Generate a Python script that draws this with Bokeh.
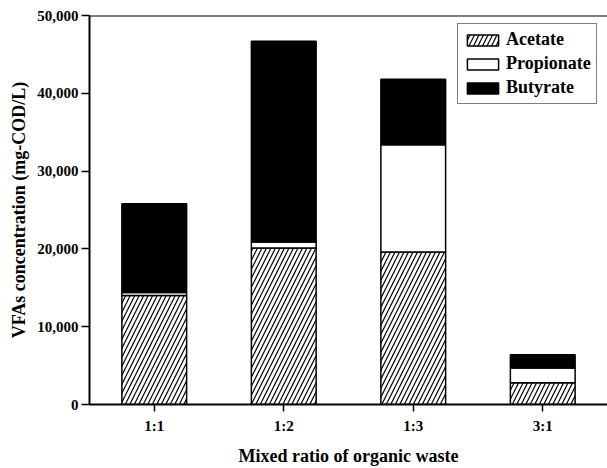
from bokeh.plotting import figure
from bokeh.models import FactorRange, Range1d, FixedTicker, NumeralTickFormatter, Span, Legend, LegendItem
from bokeh.embed import file_html
from bokeh.resources import INLINE

ratios = ["1:1", "1:2", "1:3", "3:1"]
acetate = [14000, 20100, 19600, 2800]
propionate = [400, 800, 13800, 1900]
butyrate = [11400, 25800, 8400, 1700]
y_ticks = [0, 10000, 20000, 30000, 40000, 50000]

FONT = "Liberation Serif"

p = figure(width=607, height=468, x_range=FactorRange(*ratios, start=0, end=3.97),
           y_range=Range1d(0, 50000), output_backend="svg", toolbar_location=None,
           min_border_left=89, min_border_right=0, min_border_top=15, min_border_bottom=64)
p.outline_line_color = None
p.xgrid.grid_line_color = None
p.ygrid.grid_line_color = None
p.background_fill_color = "white"
p.border_fill_color = "white"

src = dict(x=ratios, Acetate=acetate, Propionate=propionate, Butyrate=butyrate)
rs = p.vbar_stack(["Acetate", "Propionate", "Butyrate"], x="x", width=0.5, source=src,
                  fill_color=["white", "white", "black"], line_color="black", line_width=1.5,
                  hatch_pattern=["/", " ", " "], hatch_color="black", hatch_scale=9, hatch_weight=1.2)

top = Span(location=50000, dimension="width", line_color="black", line_width=2)
p.add_layout(top)

for ax in (p.xaxis[0], p.yaxis[0]):
    ax.axis_line_color = "black"
    ax.axis_line_width = 2
    ax.major_tick_line_color = "black"
    ax.major_tick_line_width = 1.5
    ax.minor_tick_line_color = None
    ax.major_label_text_font = FONT
    ax.major_label_text_font_style = "bold"
    ax.major_label_text_font_size = "15px"
    ax.major_label_text_color = "black"
    ax.axis_label_text_font = FONT
    ax.axis_label_text_font_style = "bold"
    ax.axis_label_text_font_size = "18px"
    ax.axis_label_text_color = "black"

p.yaxis.ticker = FixedTicker(ticks=y_ticks)
p.yaxis.formatter = NumeralTickFormatter(format="0,0")
p.yaxis.major_tick_out = 8
p.yaxis.major_tick_in = 0
p.yaxis.major_label_standoff = 3
p.yaxis.axis_label = "VFAs concentration (mg-COD/L)"
p.yaxis.axis_label_standoff = 5

p.xaxis.major_tick_out = 7
p.xaxis.major_tick_in = 0
p.xaxis.major_label_standoff = 6
p.xaxis.axis_label = "Mixed ratio of organic waste"
p.xaxis.axis_label_standoff = 9

legend = Legend(items=[LegendItem(label="Acetate", renderers=[rs[0]]),
                       LegendItem(label="Propionate", renderers=[rs[1]]),
                       LegendItem(label="Butyrate", renderers=[rs[2]])],
                location=(368, 300), margin=0, padding=5, spacing=3,
                glyph_width=39, glyph_height=14, label_standoff=4,
                border_line_color="black", border_line_width=1.5,
                label_text_font=FONT, label_text_font_style="bold", label_text_font_size="18px",
                label_text_color="black", background_fill_alpha=1)
p.add_layout(legend, "center")

open("out.html", "w").write(file_html(p, INLINE))
